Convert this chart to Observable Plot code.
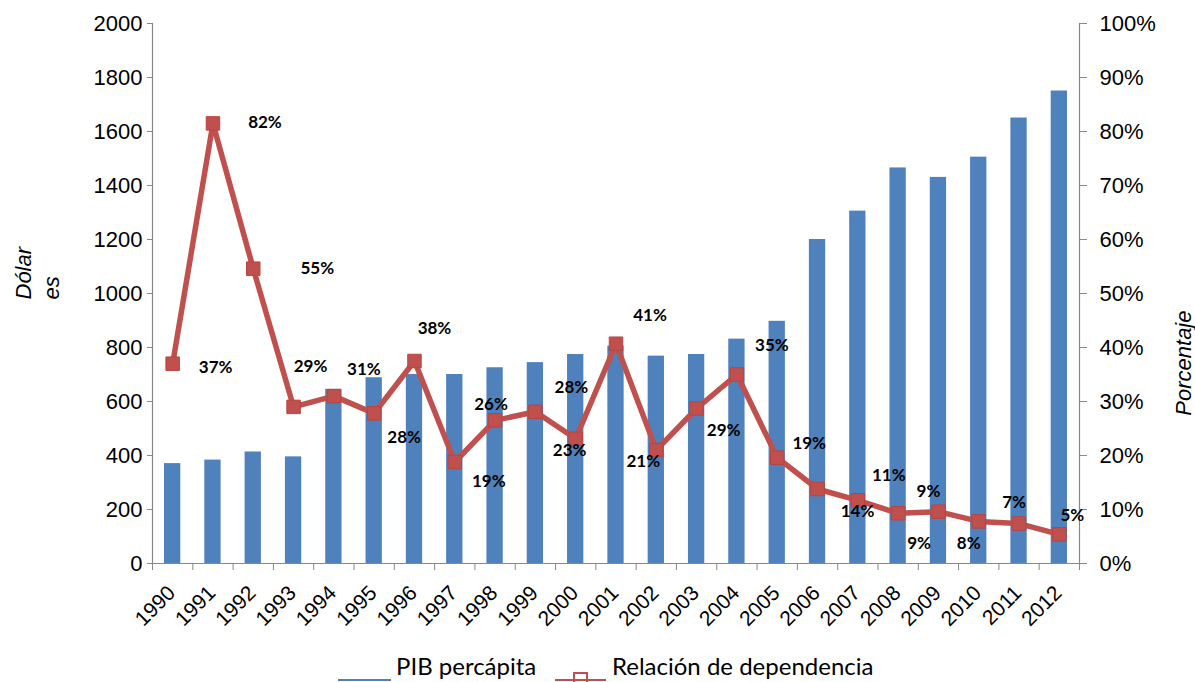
<!DOCTYPE html>
<html><head><meta charset="utf-8">
<script src="https://cdn.jsdelivr.net/npm/d3@7"></script>
<script src="https://cdn.jsdelivr.net/npm/@observablehq/plot@0.6"></script>
<style>
body{margin:0;background:#fff;}
#chart svg{display:block;}
#legend{position:relative;height:42px;width:1195px;}
</style></head><body>
<div id="chart"></div>
<div id="legend"></div>
<script>
// ---- data ----
const years = ["1990","1991","1992","1993","1994","1995","1996","1997","1998","1999","2000","2001","2002","2003","2004","2005","2006","2007","2008","2009","2010","2011","2012"];
const pibPercapita = [370,383,413,395,645,688,700,700,725,744,774,805,768,774,831,897,1200,1305,1465,1430,1505,1650,1750];
const dependencia = [37.0,81.5,54.6,29.0,31.0,27.8,37.5,18.8,26.5,28.1,23.1,40.7,21.0,28.7,35.0,19.6,13.8,11.7,9.3,9.6,7.8,7.4,5.4];
const depLabels = ["37%","82%","55%","29%","31%","28%","38%","19%","26%","28%","23%","41%","21%","29%","35%","19%","14%","11%","9%","9%","8%","7%","5%"];
const leftTicks = [0,200,400,600,800,1000,1200,1400,1600,1800,2000];
const rightMax = 100; // percent at top of the right axis

// ---- layout / style (pixels) ----
const W = 1195, H = 640, mL = 152, mR = 116, mT = 23, mB = 77;
const bw = (W - mL - mR) / years.length;
const labelDx = [43,52,64,17,30,30,20,34,-4,36,-6,34,-13,27,35,32,40,31,21,-10,-10,-5,13];
const labelDy = [4,-1,0,-40,-27,24,-32,20,-16,-24,12,-28,11,22,-29,-14,23,-25,30,-20,22,-21,-19];

const rows = years.map((y, i) => ({year: y, pib: pibPercapita[i], dep: dependencia[i], label: depLabels[i]}));
const yMax = leftTicks[leftTicks.length - 1];
const depY = d => d.dep * yMax / rightMax;

const blue = "#4F81BD", red = "#C0504D", axisGray = "#888";
const tickFont = "Liberation Sans, Arial, sans-serif";

const marks = [
  Plot.barY(rows, {x: "year", y: "pib", fill: blue, insetLeft: 12, insetRight: 12}),
  Plot.ruleY([0], {stroke: axisGray, strokeWidth: 1.2}),
  Plot.frame({anchor: "left", stroke: axisGray, strokeWidth: 1.2}),
  Plot.frame({anchor: "right", stroke: axisGray, strokeWidth: 1.2}),
  Plot.axisY({anchor: "left", ticks: leftTicks, tickFormat: d => String(d), tickSize: 5, tickPadding: 5, label: null,
    fontSize: 22, fontFamily: tickFont, stroke: axisGray, fill: "black"}),
  Plot.axisY({anchor: "right", ticks: leftTicks, tickFormat: d => `${d * rightMax / yMax}%`, tickSize: 7, tickPadding: 13, label: null,
    fontSize: 22, fontFamily: tickFont, stroke: axisGray, fill: "black"}),
  Plot.axisX({tickSize: 7, dx: -bw / 2, tickFormat: () => "", label: null, stroke: axisGray}),
  Plot.axisX({ticks: [years[years.length - 1]], tickSize: 7, dx: bw / 2, tickFormat: () => "", label: null, stroke: axisGray}),
  Plot.axisX({tickSize: 0, tickRotate: -45, tickPadding: 26, dx: -1, label: null,
    fontSize: 21, fontFamily: tickFont, fill: "black"}),
  Plot.line(rows, {x: "year", y: depY, stroke: red, strokeWidth: 5.5}),
  Plot.dot(rows, {x: "year", y: depY, symbol: "square", r: 7.6, fill: red, stroke: "#b8443f", strokeWidth: 1}),
  ...rows.map((d, i) => Plot.text([d], {x: "year", y: depY, text: "label", dx: labelDx[i], dy: labelDy[i],
    fontSize: 17, fontWeight: "bold", fontFamily: "Lato, Carlito, sans-serif", fill: "black"})),
  Plot.text(["Dólar\nes"], {frameAnchor: "left", rotate: -90, dx: -116.5, dy: 6,
    fontSize: 22, fontStyle: "italic", lineHeight: 1.27, fontFamily: tickFont, fill: "black"}),
  Plot.text(["Porcentaje"], {frameAnchor: "right", rotate: -90, dx: 104, dy: 17,
    fontSize: 22, fontStyle: "italic", fontFamily: tickFont, fill: "black"})
];

const chart = Plot.plot({
  width: W, height: H,
  marginLeft: mL, marginRight: mR, marginTop: mT, marginBottom: mB,
  x: {type: "band", domain: years, padding: 0, round: false, axis: null},
  y: {domain: [0, yMax], axis: null},
  style: {background: "white", color: "black", fontFamily: tickFont},
  marks
});
document.getElementById("chart").appendChild(chart);

// legend below the chart
const lg = d3.select("#legend").append("svg").attr("width", W).attr("height", 42);
lg.append("line").attr("x1", 338).attr("x2", 391).attr("y1", 40).attr("y2", 40).attr("stroke", blue).attr("stroke-width", 2);
lg.append("text").attr("x", 396).attr("y", 35).text("PIB percápita")
  .attr("font-family", "Lato, sans-serif").attr("font-size", 24).attr("fill", "black");
lg.append("line").attr("x1", 555).attr("x2", 606).attr("y1", 40).attr("y2", 40).attr("stroke", red).attr("stroke-width", 2);
lg.append("rect").attr("x", 574).attr("y", 33).attr("width", 13).attr("height", 13).attr("fill", "none").attr("stroke", red).attr("stroke-width", 2);
lg.append("text").attr("x", 612).attr("y", 35).text("Relación de dependencia")
  .attr("font-family", "Lato, sans-serif").attr("font-size", 24).attr("fill", "black");
</script>
</body></html>
